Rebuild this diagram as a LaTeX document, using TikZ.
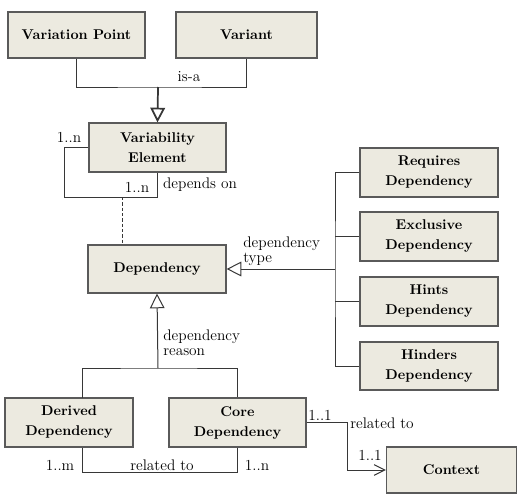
\documentclass[tikz,border=0pt]{standalone}
\usepackage{fontspec}
\usetikzlibrary{arrows.meta}

\definecolor{boxfill}{RGB}{236,234,224}
\definecolor{boxline}{RGB}{90,90,90}
\definecolor{wire}{RGB}{55,55,55}

\tikzset{
  umlbox/.style={draw=boxline, fill=boxfill, line width=0.9pt, inner sep=1pt, align=center,
    font=\fontsize{10.6}{15}\selectfont\bfseries},
  wh/.style 2 args={minimum width=#1*0.75pt, minimum height=#2*0.75pt},
  lbl/.style={inner sep=0.75pt, font=\fontsize{11.5}{11}\selectfont},
  wire/.style={draw=wire, line width=0.75pt},
  gen/.style={wire, -{Triangle[open, length=11pt, width=11pt, fill=white]}},
  assoc/.style={wire, -{Straight Barb[length=8pt, width=8pt]}},
}

\begin{document}
\begin{tikzpicture}[x=0.75pt,y=0.75pt,yscale=-1,xscale=1]
\useasboundingbox (0,0) rectangle (518,496);

%Shape: Rectangle [id:vp] 
\node [umlbox, wh={137}{46}] (vp) at (76.5,35) {Variation Point};
%Shape: Rectangle [id:variant] 
\node [umlbox, wh={141}{46}] (variant) at (246.5,35) {Variant};
%Shape: Rectangle [id:varel] 
\node [umlbox, wh={137}{49}] (varel) at (157.5,147.5) {Variability\\Element};
%Shape: Rectangle [id:dep] 
\node [umlbox, wh={138}{48}] (dep) at (157,269) {Dependency};
%Shape: Rectangle [id:req] 
\node [umlbox, wh={138}{49}] (req) at (429,172.5) {Requires\\Dependency};
%Shape: Rectangle [id:excl] 
\node [umlbox, wh={138}{49}] (excl) at (429,236.5) {Exclusive\\Dependency};
%Shape: Rectangle [id:hints] 
\node [umlbox, wh={138}{49}] (hints) at (429,301.5) {Hints\\Dependency};
%Shape: Rectangle [id:hinders] 
\node [umlbox, wh={138}{48}] (hinders) at (429,366) {Hinders\\Dependency};
%Shape: Rectangle [id:derived] 
\node [umlbox, wh={128}{49}] (derived) at (69,422.5) {Derived\\Dependency};
%Shape: Rectangle [id:core] 
\node [umlbox, wh={137}{49}] (core) at (237.5,422.5) {Core\\Dependency};
%Shape: Rectangle [id:context] 
\node [umlbox, wh={130}{46}] (context) at (451.5,470) {Context};

%bend points
\coordinate (isa) at (158,87);
\coordinate (loop) at (64,197);
\coordinate (dash) at (122,197);
\coordinate (bus) at (335,269);
\coordinate (rsn) at (158,368);
\coordinate (dl) at (82,398);
\coordinate (rel) at (82,472);
\coordinate (ctx) at (347,470);

%Straight Lines [id:isa] 
\draw [wire] (vp.south) |- (isa) -| (variant.south) ;
\draw [gen, line width=1.3pt] (isa) -- (varel.north) ;
%Straight Lines [id:loop] 
\draw [wire] (varel.west) -| (loop) -| (varel.south) ;
%Straight Lines [id:dash] 
\draw [wire, dash pattern={on 2.5pt off 1.5pt}] (dash) -- (dash |- dep.north) ;
%Straight Lines [id:type] 
\draw [gen] (bus) -- (dep.east) ;
\draw [wire] (req.west) -| (bus) |- (hinders.west) ;
\foreach \n in {excl,hints}
  \draw [wire] (\n.west) -- (\n.west -| bus) ;
%Straight Lines [id:reason] 
\draw [gen] (rsn) -- (dep.south) ;
\draw [wire] (dl) |- (rsn) -| (core.north) ;
%Straight Lines [id:rel] 
\draw [wire] (derived.south -| rel) -- (rel) -| (core.south) ;
%Straight Lines [id:ctx] 
\draw [assoc] (core.east) -| (ctx) -- (context.west) ;

% Text Node
\node [lbl] (isaL) at (189,77) {is-a};
% Text Node
\node [lbl] (m1) at (69,137) {1..n};
% Text Node
\node [lbl] (m2) at (137,187) {1..n};
% Text Node
\node [lbl] (depOn) at (200,185) {depends on};
% Text Node
\node [lbl, anchor=north west, align=left] (depType) at (242,236) {dependency\\type};
% Text Node
\node [lbl, anchor=north west, align=left] (depRsn) at (162,329) {dependency\\reason};
% Text Node
\node [lbl] (m3) at (60,465) {1..m};
% Text Node
\node [lbl] (relL) at (162,465) {related to};
% Text Node
\node [lbl] (m4) at (257,465) {1..n};
% Text Node
\node [lbl] (m5) at (320,415) {1..1};
% Text Node
\node [lbl] (relCtx) at (382,423) {related to};
% Text Node
\node [lbl] (m6) at (370,455) {1..1};
\end{tikzpicture}
\end{document}
